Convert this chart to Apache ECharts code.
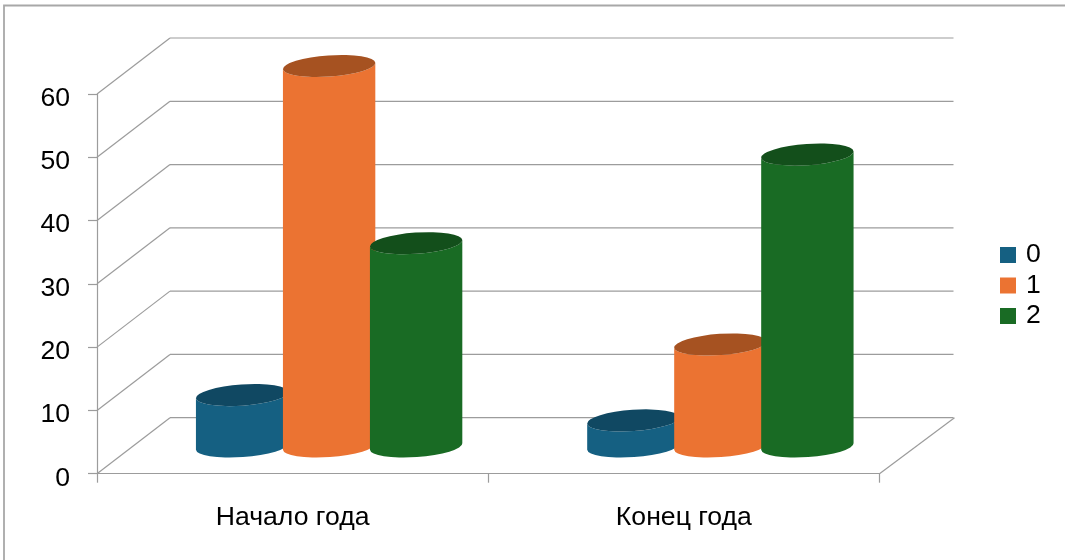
<!DOCTYPE html>
<html><head><meta charset="utf-8">
<style>html,body{margin:0;padding:0;background:#fff}#c{width:1065px;height:560px}</style>
<script src="https://cdn.jsdelivr.net/npm/echarts@6/dist/echarts.min.js"></script>
</head><body><div id="c"></div>
<script>
const categories = ['Начало года', 'Конец года'];
const seriesNames = ['0', '1', '2'];
const values0 = [8, 4];
const values1 = [60, 16];
const values2 = [32, 46];
const bodyColors = ['#156082', '#EB7332', '#196B24'];
const topColors = ['#104862', '#A65221', '#134F1B'];
const yTicks = [0, 10, 20, 30, 40, 50, 60];

const DX = 73, DXR = 75, DY = -56;
const RX = 46.3, RY = 10.6, TILT = -4 * Math.PI / 180, STEP = 87;
const GRID = '#9c9c9c';
const FS = 26.6;
const ff = '"Liberation Sans", Arial, sans-serif';

function cylinder(idx) {
  return function (params, api) {
    const base = api.coord([api.value(0), 0]);
    const top = api.coord([api.value(0), api.value(1)]);
    const cx = base[0] + DX / 2 + (idx - 1) * STEP;
    const by = base[1] + DY / 2 + 0.8;
    const ty = top[1] + DY / 2;
    const ex = RX * Math.cos(TILT), ey = RX * Math.sin(TILT);
    const deg = TILT * 180 / Math.PI;
    const body = `M${cx - ex} ${ty - ey}L${cx - ex} ${by - ey}A${RX} ${RY} ${deg} 0 0 ${cx + ex} ${by + ey}L${cx + ex} ${ty + ey}A${RX} ${RY} ${deg} 0 1 ${cx - ex} ${ty - ey}Z`;
    const cap = `M${cx - ex} ${ty - ey}A${RX} ${RY} ${deg} 0 1 ${cx + ex} ${ty + ey}A${RX} ${RY} ${deg} 0 1 ${cx - ex} ${ty - ey}Z`;
    return {
      type: 'group',
      children: [
        { type: 'path', shape: { pathData: body }, style: { fill: bodyColors[idx] } },
        { type: 'path', shape: { pathData: cap }, style: { fill: topColors[idx] } }
      ]
    };
  };
}

function walls(params, api) {
  const v = api.value(0);
  const y = api.coord([0, v])[1];
  const x0 = params.coordSys.x, x1 = x0 + params.coordSys.width;
  const st = { stroke: GRID, lineWidth: 1.2, fill: null };
  const kids = [
    { type: 'line', shape: { x1: x0, y1: y, x2: x0 + DX, y2: y + DY }, style: st },
    { type: 'line', shape: { x1: x0 + DX, y1: y + DY, x2: x1 + DXR - 1, y2: y + DY }, style: st }
  ];
  if (v === 0) kids.push({ type: 'line', shape: { x1: x1, y1: y, x2: x1 + DXR, y2: y + DY }, style: st });
  return { type: 'group', children: kids };
}

const mkData = arr => arr.map((v, i) => [i, v]);
const option = {
  animation: false,
  backgroundColor: '#fff',
  textStyle: { fontFamily: ff },
  graphic: [{ type: 'polyline', silent: true, z: -10,
    shape: { points: [[4, 562], [4, 5.5], [1066, 5.5]] },
    style: { fill: 'none', stroke: '#a8a8a8', lineWidth: 1.8 } }],
  grid: { left: 97, top: 94, width: 782.5, height: 379.7 },
  legend: {
    data: seriesNames, orient: 'vertical', left: 1000, top: 241.5,
    icon: 'rect', itemWidth: 16, itemHeight: 16, itemGap: 3.5,
    selectedMode: false,
    textStyle: { fontSize: FS, color: '#000', fontFamily: ff, padding: [8, 0, 0, 5] },
    padding: 0
  },
  xAxis: {
    type: 'category', data: categories,
    axisLine: { lineStyle: { color: GRID, width: 1.2 } },
    axisTick: { show: true, alignWithLabel: false, length: 9, lineStyle: { color: GRID, width: 1.2 } },
    axisLabel: { fontSize: FS, color: '#000', margin: 30, fontFamily: ff },
    splitLine: { show: false }
  },
  yAxis: {
    type: 'value', min: 0, max: 60, interval: 10,
    axisLine: { show: true, lineStyle: { color: GRID, width: 1.2 } },
    axisTick: { show: true, length: 9, lineStyle: { color: GRID, width: 1.2 } },
    axisLabel: { fontSize: FS, color: '#000', margin: 27, fontFamily: ff, verticalAlign: 'top', lineHeight: 9 },
    splitLine: { show: false }
  },
  series: [
    { type: 'custom', name: 'walls', renderItem: walls, data: yTicks.map(v => [v]), encode: { y: 0 }, silent: true, z: 1, clip: false },
    { type: 'custom', name: seriesNames[0], renderItem: cylinder(0), data: mkData(values0), itemStyle: { color: bodyColors[0] }, encode: { x: 0, y: 1 }, z: 2, clip: false },
    { type: 'custom', name: seriesNames[1], renderItem: cylinder(1), data: mkData(values1), itemStyle: { color: bodyColors[1] }, encode: { x: 0, y: 1 }, z: 3, clip: false },
    { type: 'custom', name: seriesNames[2], renderItem: cylinder(2), data: mkData(values2), itemStyle: { color: bodyColors[2] }, encode: { x: 0, y: 1 }, z: 4, clip: false }
  ]
};
echarts.init(document.getElementById('c'), null, { renderer: 'canvas' }).setOption(option);
</script></body></html>
